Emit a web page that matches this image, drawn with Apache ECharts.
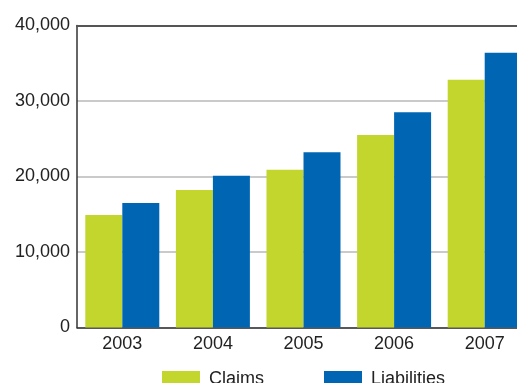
<!DOCTYPE html>
<html>
<head>
<meta charset="utf-8">
<script src="https://cdn.jsdelivr.net/npm/echarts@6/dist/echarts.min.js"></script>
<style>
  html, body { margin: 0; padding: 0; background: #fff; }
  #chart { width: 517px; height: 383px; }
</style>
</head>
<body>
<div id="chart"></div>
<script>
// Yearly totals
const years = ['2003', '2004', '2005', '2006', '2007'];
const claims = [14900, 18200, 20900, 25500, 32800];
const liabilities = [16500, 20100, 23200, 28500, 36400];
const yTicks = [0, 10000, 20000, 30000, 40000];

const GREEN = '#c2d62e';
const BLUE = '#0066b3';
const FONT = '"Liberation Sans", Arial, sans-serif';

const chart = echarts.init(document.getElementById('chart'), null, { renderer: 'canvas' });

chart.setOption({
  animation: false,
  textStyle: { fontFamily: FONT },
  // plot runs past the right edge of the canvas
  grid: {
    left: 77, top: 25.5, width: 453, bottom: 55.5,
    containLabel: false,
    outerBoundsMode: 'none'
  },
  legend: {
    data: ['Claims', 'Liabilities'],
    left: 157,
    top: 365,
    itemWidth: 38,
    itemHeight: 16,
    itemGap: 60,
    icon: 'rect',
    textStyle: { fontFamily: FONT, fontSize: 18, color: '#222', padding: [0, 0, 0, 4] }
  },
  xAxis: [
    {
      type: 'category',
      data: years,
      axisLine: { lineStyle: { color: '#333', width: 1.5 } },
      axisTick: { show: false },
      axisLabel: { color: '#222', fontSize: 18, fontFamily: FONT, margin: 8 }
    },
    {
      // closing frame line along the top of the plot
      type: 'category',
      position: 'top',
      data: years,
      axisLine: { lineStyle: { color: '#555', width: 2 } },
      axisTick: { show: false },
      axisLabel: { show: false }
    }
  ],
  yAxis: {
    type: 'value',
    min: yTicks[0],
    max: yTicks[yTicks.length - 1],
    interval: 10000,
    axisLine: { show: true, lineStyle: { color: '#333', width: 1.5 } },
    axisTick: { show: false },
    axisLabel: {
      color: '#222',
      fontSize: 18,
      fontFamily: FONT,
      margin: 7,
      formatter: v => v.toLocaleString('en-US')
    },
    splitLine: { lineStyle: { color: '#b8b8b8', width: 1.5 } }
  },
  series: [
    {
      name: 'Claims',
      type: 'bar',
      data: claims,
      barWidth: 37,
      barGap: '0%',
      itemStyle: { color: GREEN }
    },
    {
      name: 'Liabilities',
      type: 'bar',
      data: liabilities,
      barWidth: 37,
      barGap: '0%',
      itemStyle: { color: BLUE }
    }
  ]
});
</script>
</body>
</html>
